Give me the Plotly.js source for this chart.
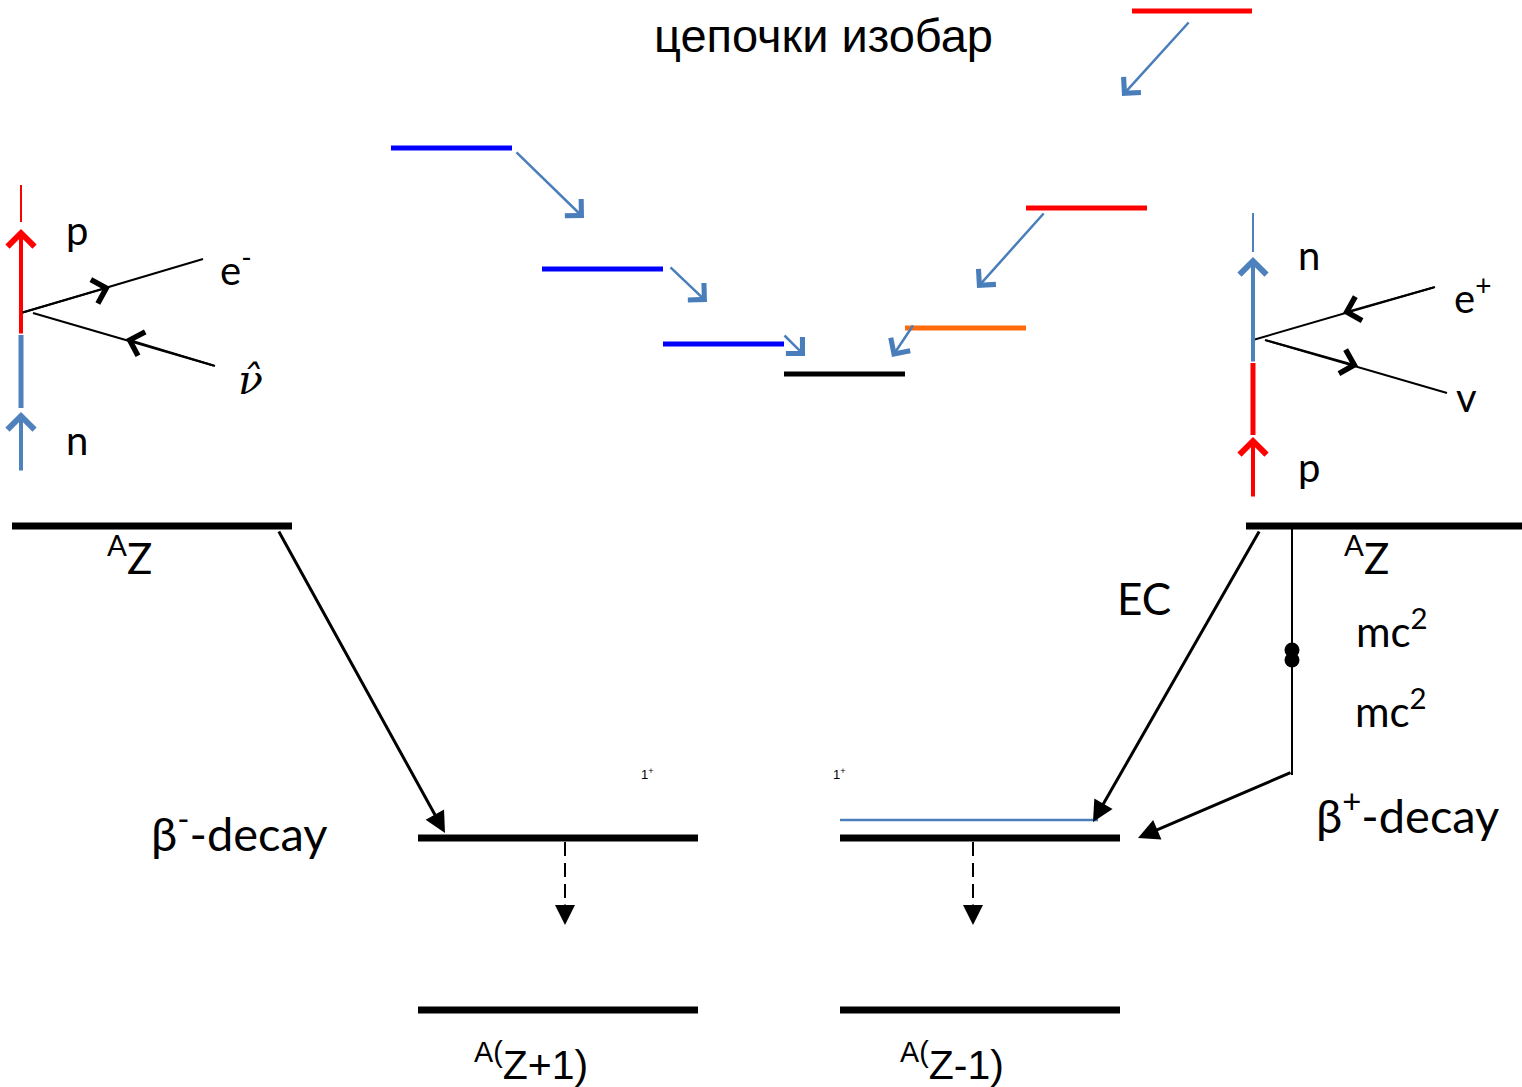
<!DOCTYPE html>
<html>
<head>
<meta charset="utf-8">
<script src="https://cdn.plot.ly/plotly-3.0.1.min.js"></script>
<style>html,body{margin:0;padding:0;background:#fff;}#chart{width:1522px;height:1087px;}</style>
</head>
<body>
<div id="chart"></div>
<script>
// ---- data (diagram coordinates: x to the right, y downward) ----
// main nuclear levels (black)
const levelX0 = [12, 1246, 418, 840, 418, 840];
const levelX1 = [292, 1522, 698, 1120, 698, 1120];
const levelY  = [526, 526, 838, 838, 1010, 1010];

// isobar chain levels
const chainX0 = [391, 542, 663, 784, 1132, 1026, 905];
const chainX1 = [512, 663, 784, 905, 1252, 1147, 1026];
const chainY  = [148, 269, 344, 374, 11, 208, 328];
const chainKind = ['b', 'b', 'b', 'k', 'r', 'r', 'o'];

// isobar chain transitions (start -> end)
const chainArrSX = [515, 669, 783, 1190, 1045, 914];
const chainArrSY = [151, 266, 334, 21, 212, 324];
const chainArrEX = [584, 707, 805, 1122, 977, 892];
const chainArrEY = [218, 302, 356, 96, 288, 357];

// decay transitions (start -> end)
const decayArrSX = [278, 1260, 1292];
const decayArrSY = [530, 530, 772];
const decayArrEX = [445, 1093, 1138];
const decayArrEY = [833, 822, 838];

// gamma de-excitation (dashed)
const gammaX  = [565, 973];
const gammaY0 = [842, 842];
const gammaY1 = [925, 925];

// labels
const labelText = [
  'цепочки изобар',
  'p', 'e<sup>-</sup>', '<i>ν̂</i>', 'n',
  'n', 'e<sup>+</sup>', 'v', 'p',
  '<sup>A</sup>Z', '<sup>A</sup>Z', 'EC', 'mc<sup>2</sup>', 'mc<sup>2</sup>',
  'β<sup>-</sup>-decay', 'β<sup>+</sup>-decay',
  '1<sup>+</sup>', '1<sup>+</sup>',
  '<sup>A(</sup>Z+1)', '<sup>A(</sup>Z-1)'
];
const labelX = [823, 77, 236, 250, 77, 1309, 1472, 1466, 1309, 129, 1366, 1144, 1392, 1391, 239, 1407, 647, 839, 531, 952];
const labelY = [35, 230, 267, 380, 440, 255, 295, 397, 467, 555, 555, 598, 628, 708, 830, 812, 774, 774, 1062, 1062];
const labelFont = ['a', 'c', 'c', 's', 'c', 'c', 'c', 'c', 'c', 'c', 'c', 'c', 'c', 'c', 'c', 'c', 'a', 'a', 'a', 'a'];
const labelSize = [47, 40, 40, 41, 40, 40, 40, 40, 40, 42, 42, 44, 42, 42, 47, 47, 13, 13, 41, 41];

// ---- styles ----
const BLUE = '#0000ff', RED = '#ff0000', ORANGE = '#ff6a0d', STEEL = '#4a7ebb', PBLUE = '#4f81bd';
const kindColor = {b: BLUE, k: '#000000', r: RED, o: ORANGE};
const fontFamily = {a: 'Liberation Sans, Arial, sans-serif', c: 'Lato, Carlito, Calibri, sans-serif', s: 'DejaVu Serif, serif'};

const traces = [];
function seg(x0, x1, y0, y1, color, width, dash) {
  traces.push({type: 'scatter', mode: 'lines', x: [x0, x1], y: [y0, y1],
    line: {color: color, width: width, dash: dash || 'solid'}, hoverinfo: 'skip', showlegend: false});
}
const ann = [];
function arrow(sx, sy, ex, ey, color, width, head, size) {
  ann.push({x: ex, y: ey, ax: sx, ay: sy, xref: 'x', yref: 'y', axref: 'x', ayref: 'y',
    text: '', showarrow: true, arrowhead: head, arrowsize: size, arrowwidth: width, arrowcolor: color, standoff: 0});
}

for (let i = 0; i < levelY.length; i++) seg(levelX0[i], levelX1[i], levelY[i], levelY[i], '#000', 7);
for (let i = 0; i < chainY.length; i++) seg(chainX0[i], chainX1[i], chainY[i], chainY[i], kindColor[chainKind[i]], 5);
// thin blue level in A(Z-1)
seg(840, 1098, 820, 820, STEEL, 2.5);
for (let i = 0; i < chainArrSX.length; i++) arrow(chainArrSX[i], chainArrSY[i], chainArrEX[i], chainArrEY[i], STEEL, 2.5, 4, 1.8);
for (let i = 0; i < decayArrSX.length; i++) arrow(decayArrSX[i], decayArrSY[i], decayArrEX[i], decayArrEY[i], '#000', 3, 2, 1.4);
// beta+ vertical line with double dot
seg(1292, 1292, 528, 775, '#000', 2);
traces.push({type: 'scatter', mode: 'markers', x: [1292, 1292], y: [650, 660],
  marker: {color: '#000', size: 15}, hoverinfo: 'skip', showlegend: false});
// gamma dashed arrows
for (let i = 0; i < gammaX.length; i++) {
  seg(gammaX[i], gammaX[i], gammaY0[i], gammaY1[i] - 14, '#000', 2, '14px,7px');
  arrow(gammaX[i], gammaY1[i] - 22, gammaX[i], gammaY1[i], '#000', 2, 2, 2);
}

// left beta- vertex diagram
seg(21, 21, 185, 222, RED, 2);
arrow(21, 335, 21, 229, RED, 4, 4, 1.3);
seg(21, 21, 335, 408, PBLUE, 5);
arrow(21, 472, 21, 412, PBLUE, 4, 4, 1.3);
seg(21, 203, 313, 259, '#000', 2);
arrow(21, 313, 110, 287, '#000', 2, 4, 2.4);
seg(33, 215, 313, 366, '#000', 2);
arrow(215, 366, 126, 339, '#000', 2, 4, 2.4);

// right beta+ vertex diagram
seg(1253, 1253, 213, 252, PBLUE, 2);
arrow(1253, 363, 1253, 257, PBLUE, 4, 4, 1.3);
seg(1253, 1253, 363, 435, RED, 5);
arrow(1253, 498, 1253, 437, RED, 4, 4, 1.3);
seg(1253, 1435, 340, 287, '#000', 2);
arrow(1435, 287, 1343, 313, '#000', 2, 4, 2.4);
seg(1265, 1447, 340, 393, '#000', 2);
arrow(1265, 340, 1358, 366, '#000', 2, 4, 2.4);

for (let i = 0; i < labelText.length; i++) {
  ann.push({x: labelX[i], y: labelY[i], xref: 'x', yref: 'y', text: labelText[i], showarrow: false,
    xanchor: 'center', yanchor: 'middle',
    font: {family: fontFamily[labelFont[i]], size: labelSize[i], color: '#000'}});
}

const layout = {
  width: 1522, height: 1087,
  margin: {l: 0, r: 0, t: 0, b: 0, pad: 0},
  paper_bgcolor: '#ffffff', plot_bgcolor: '#ffffff',
  xaxis: {range: [0, 1522], visible: false, showgrid: false, zeroline: false, fixedrange: true},
  yaxis: {range: [1087, 0], visible: false, showgrid: false, zeroline: false, fixedrange: true},
  annotations: ann,
  showlegend: false
};
Plotly.newPlot('chart', traces, layout, {staticPlot: true, displayModeBar: false});
</script>
</body>
</html>
